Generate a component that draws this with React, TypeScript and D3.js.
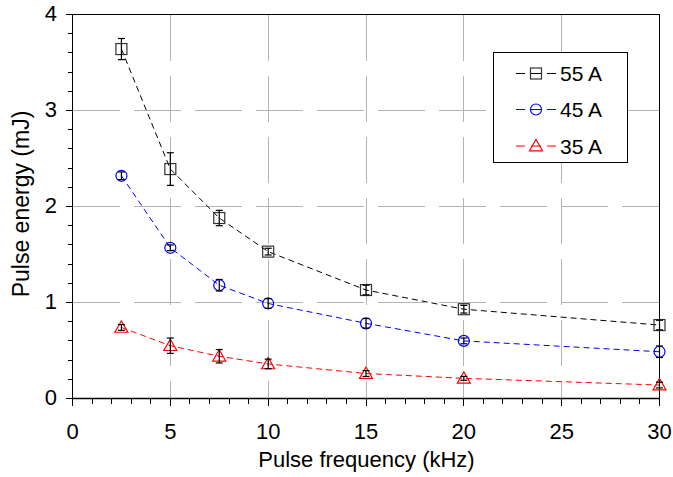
import React from "react";
import * as d3 from "d3";

const freqs = [2.5, 5, 7.5, 10, 15, 20, 30];
const e55 = [3.64, 2.39, 1.88, 1.53, 1.13, 0.93, 0.765];
const err55 = [0.11, 0.17, 0.08, 0.035, 0.05, 0.04, 0.05];
const e45 = [2.32, 1.57, 1.18, 0.99, 0.783, 0.6, 0.487];
const err45 = [0.04, 0.03, 0.06, 0.05, 0.05, 0.03, 0.06];
const e35 = [0.74, 0.55, 0.44, 0.36, 0.26, 0.21, 0.14];
const err35 = [0.03, 0.08, 0.07, 0.05, 0.03, 0.02, 0.03];
const seriesNames = ["55 A", "45 A", "35 A"];
const xTicks = [0, 5, 10, 15, 20, 25, 30];
const yTicks = [0, 1, 2, 3, 4];
const xTitle = "Pulse frequency (kHz)";
const yTitle = "Pulse energy (mJ)";

const W = 673;
const H = 477;
const FONT = "'Liberation Sans', Arial, Helvetica, sans-serif";

type Shape = "square" | "circle" | "triangle";

function Marker({ shape, cx, cy, color }: { shape: Shape; cx: number; cy: number; color: string }) {
  if (shape === "square") {
    return <rect x={cx - 5.5} y={cy - 5.5} width={11} height={11} fill="none" stroke={color} strokeWidth={1.2} />;
  }
  if (shape === "circle") {
    return <circle cx={cx} cy={cy} r={5.5} fill="none" stroke={color} strokeWidth={1.2} />;
  }
  const p = `M${cx},${cy - 6.5} L${cx + 6.5},${cy + 4.8} L${cx - 6.5},${cy + 4.8} Z`;
  return <path d={p} fill="none" stroke={color} strokeWidth={1.2} />;
}

export default function App() {
  const x = d3.scaleLinear().domain([0, 30]).range([72.5, 659.5]);
  const y = d3.scaleLinear().domain([0, 4]).range([398.5, 14.5]);

  const series = [
    { name: seriesNames[0], vals: e55, errs: err55, color: "#000000", mcolor: "#333333", shape: "square" as Shape },
    { name: seriesNames[1], vals: e45, errs: err45, color: "#0000ff", mcolor: "#0000ff", shape: "circle" as Shape },
    { name: seriesNames[2], vals: e35, errs: err35, color: "#ff0000", mcolor: "#ff0000", shape: "triangle" as Shape },
  ];

  const line = d3
    .line<number>()
    .x((_, i) => x(freqs[i]))
    .y((v) => y(v));

  const xMinor = d3.range(0, 31, 1);
  const yMinor = d3.range(0, 4.001, 0.2);

  const legX = 493;
  const legY = 52.5;
  const legRows = [73.5, 109.5, 146];

  return (
    <svg width={W} height={H} style={{ position: "absolute", left: 0, top: 0, background: "#fff" }} fontFamily={FONT}>
      <rect x={0} y={0} width={W} height={H} fill="#fff" />
      {/* grid */}
      <g stroke="#b4b4b4" strokeWidth={1} shapeRendering="crispEdges">
        {xTicks
          .filter((t) => t > 0 && t < 30)
          .map((t) => (
            <line key={"gx" + t} x1={x(t)} x2={x(t)} y1={y(4)} y2={y(0)} strokeDasharray="46,15" />
          ))}
        {yTicks
          .filter((t) => t > 0 && t < 4)
          .map((t) => (
            <line key={"gy" + t} x1={x(0)} x2={x(30)} y1={y(t)} y2={y(t)} strokeDasharray="47,14" />
          ))}
      </g>
      {/* frame */}
      <rect x={x(0)} y={y(4)} width={x(30) - x(0)} height={y(0) - y(4)} fill="none" stroke="#000" strokeWidth={1} shapeRendering="crispEdges" />
      {/* ticks */}
      <g stroke="#000" strokeWidth={1} shapeRendering="crispEdges">
        {xMinor.map((t) => (
          <line key={"xt" + t} x1={x(t)} x2={x(t)} y1={y(0)} y2={y(0) + (t % 5 === 0 ? 7 : 5)} />
        ))}
        {yMinor.map((t, i) => (
          <line key={"yt" + i} x1={x(0) - (i % 5 === 0 ? 7 : 5)} x2={x(0)} y1={y(t)} y2={y(t)} />
        ))}
      </g>
      <line x1={x(0)} x2={x(30)} y1={y(0)} y2={y(0)} stroke="#000" strokeWidth={1.6} />
      {/* tick labels */}
      <g fontSize={22} fill="#000">
        {xTicks.map((t) => (
          <text key={"xl" + t} x={x(t)} y={438.5} textAnchor="middle">
            {t}
          </text>
        ))}
        {yTicks.map((t) => (
          <text key={"yl" + t} x={57} y={y(t) + 6} textAnchor="end">
            {t}
          </text>
        ))}
      </g>
      <text x={(x(0) + x(30)) / 2 + 0.5} y={467} fontSize={22} textAnchor="middle">
        {xTitle}
      </text>
      <text transform={`translate(29,204) rotate(-90)`} fontSize={23} textAnchor="middle">
        {yTitle}
      </text>
      {/* series */}
      {series.map((s) => (
        <g key={s.name}>
          <path d={line(s.vals) || ""} fill="none" stroke={s.color} strokeWidth={1} strokeDasharray="6,4" />
          {s.vals.map((v, i) => (
            <Marker key={i} shape={s.shape} cx={x(freqs[i])} cy={y(v)} color={s.mcolor} />
          ))}
          <g stroke="#000" strokeWidth={1.2}>
            {s.vals.map((v, i) => {
              const cx = x(freqs[i]);
              const t = y(v + s.errs[i]);
              const b = y(v - s.errs[i]);
              return (
                <g key={"e" + i}>
                  <line x1={cx} x2={cx} y1={t} y2={b} />
                  <line x1={cx - 3.5} x2={cx + 3.5} y1={t} y2={t} />
                  <line x1={cx - 3.5} x2={cx + 3.5} y1={b} y2={b} />
                </g>
              );
            })}
          </g>
        </g>
      ))}
      {/* legend */}
      <rect x={legX + 0.5} y={legY} width={134} height={110} fill="#fff" stroke="#000" strokeWidth={1} shapeRendering="crispEdges" />
      {series.map((s, i) => {
        const cy = legRows[i];
        return (
          <g key={"leg" + i}>
            <line x1={516} x2={525} y1={cy} y2={cy} stroke={s.color} strokeWidth={1} />
            <line x1={531} x2={541} y1={cy} y2={cy} stroke={s.color} strokeWidth={1} />
            <line x1={547} x2={556} y1={cy} y2={cy} stroke={s.color} strokeWidth={1} />
            <Marker shape={s.shape} cx={536} cy={cy} color={s.mcolor} />
            <text x={560} y={cy + 7.5} fontSize={21} fill="#000">
              {s.name}
            </text>
          </g>
        );
      })}
    </svg>
  );
}
